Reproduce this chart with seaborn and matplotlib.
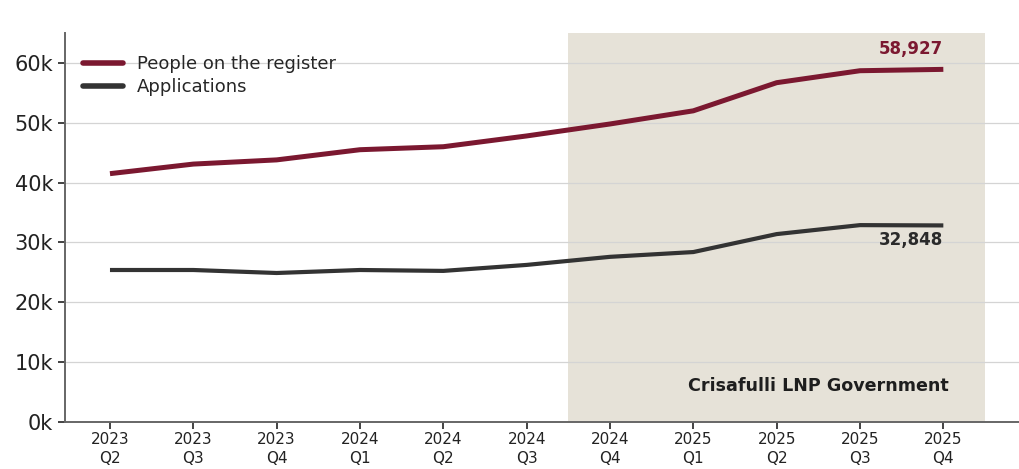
import matplotlib
matplotlib.use("Agg")
import matplotlib.pyplot as plt
from matplotlib.lines import Line2D
import seaborn as sns
import pandas as pd

quarters = ["2023\nQ2", "2023\nQ3", "2023\nQ4", "2024\nQ1", "2024\nQ2", "2024\nQ3",
            "2024\nQ4", "2025\nQ1", "2025\nQ2", "2025\nQ3", "2025\nQ4"]
register = [41500, 43100, 43800, 45500, 46000, 47800, 49800, 52000, 56700, 58700, 58927]
applications = [25400, 25400, 24900, 25400, 25250, 26250, 27600, 28400, 31400, 32900, 32848]
series_names = ["People on the register", "Applications"]
gov_label = "Crisafulli LNP Government"
yticks = [0, 10000, 20000, 30000, 40000, 50000, 60000]

colors = {"People on the register": "#7b1830", "Applications": "#333333"}

df = pd.DataFrame({
    "idx": list(range(len(quarters))) * 2,
    "value": register + applications,
    "series": [series_names[0]] * len(quarters) + [series_names[1]] * len(quarters),
})

sns.set_style("white")
plt.rcParams["font.family"] = ["DejaVu Sans"]

fig = plt.figure(figsize=(10.2, 4.69), dpi=100)
ax = fig.add_axes([0.0637, 0.1002, 0.9363, 0.8294])

# shaded period of the current government
ax.axvspan(5.5, 10.5, color="#e6e2d8", zorder=0, lw=0)

sns.lineplot(data=df, x="idx", y="value", hue="series", palette=colors,
             ax=ax, legend=False, zorder=3)
for line, lw in zip(ax.lines, [3.6, 3.0]):
    line.set_linewidth(lw)
    line.set_solid_capstyle("butt")

ax.set_xlim(-0.54, 10.92)
ax.set_ylim(0, 65000)
ax.set_yticks(yticks)
ax.set_yticklabels([f"{int(v/1000)}k" for v in yticks])
ax.set_xticks(range(len(quarters)))
ax.set_xticklabels(quarters, linespacing=1.35)
ax.set_xlabel("")
ax.set_ylabel("")

ax.grid(axis="y", color="#d4d4d4", lw=0.9, zorder=1)
ax.set_axisbelow(True)
for s in ["top", "right"]:
    ax.spines[s].set_visible(False)
for s in ["left", "bottom"]:
    ax.spines[s].set_color("#666666")
    ax.spines[s].set_linewidth(1.4)

ax.tick_params(axis="y", labelsize=15, colors="#222222", length=5, width=1.2,
               direction="out", left=True)
ax.tick_params(axis="x", labelsize=11, colors="#222222", length=5, width=1.2,
               direction="out", bottom=True, pad=2)
for lab in ax.get_yticklabels() + ax.get_xticklabels():
    lab.set_color("#222222")
for t in ax.yaxis.get_major_ticks() + ax.xaxis.get_major_ticks():
    t.tick1line.set_color("#555555")

# end-of-series value labels
ax.annotate(f"{register[-1]:,}", (10, register[-1]), xytext=(0, 8),
            textcoords="offset points", ha="right", va="bottom",
            fontsize=12, fontweight="bold", color=colors[series_names[0]])
ax.annotate(f"{applications[-1]:,}", (10, applications[-1]), xytext=(0, -4),
            textcoords="offset points", ha="right", va="top",
            fontsize=12, fontweight="bold", color="#2a2a2a")

ax.text(10.06, 6100, gov_label, ha="right", va="center",
        fontsize=12.6, fontweight="bold", color="#1e1e1e")

handles = [Line2D([0], [0], color=colors[n], lw=4) for n in series_names]
ax.legend(handles, series_names, loc="upper left", frameon=False, fontsize=13,
          handlelength=2.2, handletextpad=0.8, labelspacing=0.3,
          bbox_to_anchor=(0.0, 0.99), borderaxespad=0.6)

fig.savefig("out.png", dpi=100)
